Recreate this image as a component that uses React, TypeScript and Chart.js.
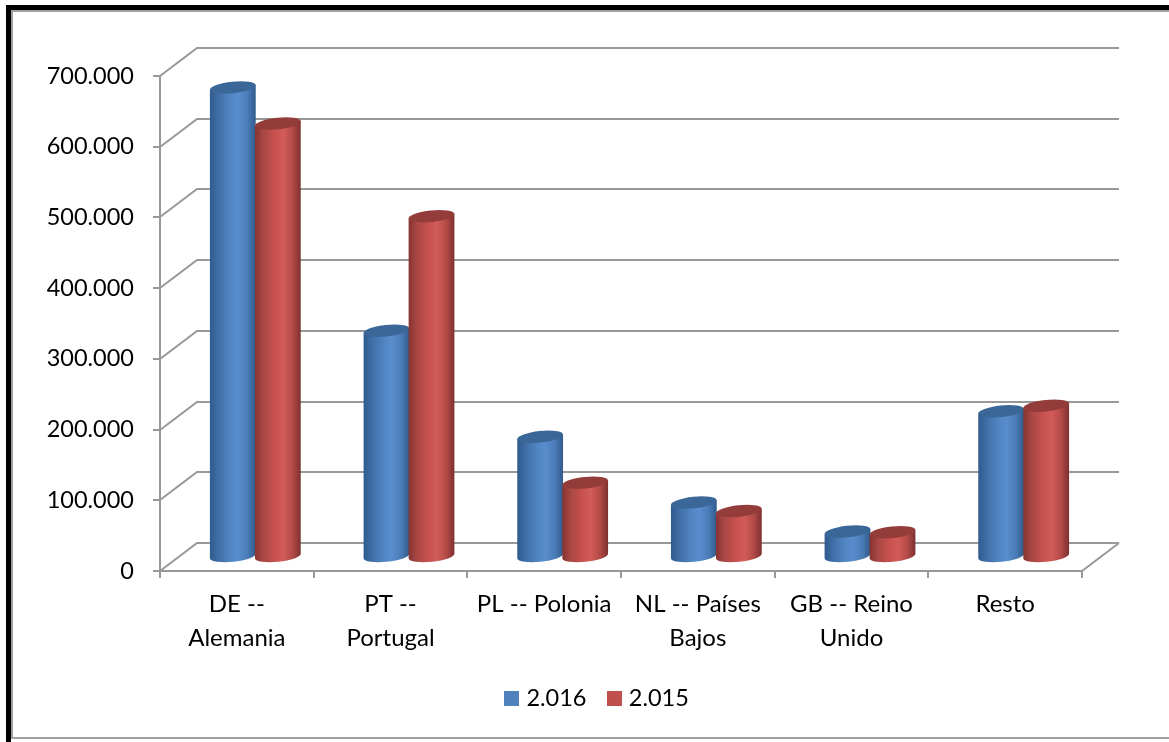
import React, { useEffect, useRef } from "react";
import { Chart, registerables } from "chart.js";

Chart.register(...registerables);

const categories = [["DE --", "Alemania"], ["PT --", "Portugal"], "PL -- Polonia", ["NL -- Países", "Bajos"], ["GB -- Reino", "Unido"], "Resto"];
const seriesNames = ["2.016", "2.015"];
const values2016 = [664000, 320000, 170000, 77000, 36000, 206000];
const values2015 = [613000, 482000, 105000, 65000, 35000, 214000];
const legendColors = ["#4f81bd", "#c0504d"];
const yMax = 700000;
const yStep = 100000;

const FONT = "Lato";
const FONT_SIZE = 23.5;
const GRID = "#989898";
const DEPTH_X = 37;
const DEPTH_Y = 28;
const RY = 5.8;
const TILT = (-6 * Math.PI) / 180;
const LEGEND_SHIFT = 58;

const palettes = [
  { stops: ["#2f5a8c", "#3f6ea6", "#5285c4", "#5a8dcd", "#4a7cb8", "#305a8a"], top: "#3b6698" },
  { stops: ["#853331", "#a84744", "#c9524f", "#d25c59", "#b44a47", "#7c302e"], top: "#933c3a" },
];

const swatch = (color: string) => {
  const c = document.createElement("canvas");
  c.width = 15;
  c.height = 15;
  const g = c.getContext("2d")!;
  g.fillStyle = color;
  g.fillRect(0, 0, 15, 15);
  return c;
};

const framePlugin = {
  id: "frame",
  afterLayout(chart: any) {
    chart.legend.left += LEGEND_SHIFT;
    chart.legend.right += LEGEND_SHIFT;
  },
  beforeDraw(chart: any) {
    const { ctx, width, height } = chart;
    ctx.save();
    ctx.fillStyle = "#ffffff";
    ctx.fillRect(0, 0, width, height);
    ctx.fillStyle = "#000000";
    ctx.fillRect(6, 5, width - 6, 5);
    ctx.fillRect(6, 5, 5, height - 5);
    ctx.fillStyle = "#a0a0a0";
    ctx.fillRect(11, 10, width - 11, 2);
    ctx.fillRect(11, 10, 2, height - 14);
    ctx.fillRect(11, 737, width - 11, 2);
    ctx.restore();
  },
};

const wallsPlugin = {
  id: "walls",
  beforeDatasetsDraw(chart: any) {
    const { ctx, chartArea, scales } = chart;
    const y = scales.y;
    ctx.save();
    ctx.strokeStyle = GRID;
    ctx.lineWidth = 2;
    ctx.beginPath();
    for (let v = 0; v <= yMax; v += yStep) {
      const p = Math.round(y.getPixelForValue(v));
      ctx.moveTo(chartArea.left, p);
      ctx.lineTo(chartArea.left + DEPTH_X, p - DEPTH_Y);
      ctx.lineTo(chartArea.right + DEPTH_X, p - DEPTH_Y);
    }
    const zero = Math.round(y.getPixelForValue(0));
    ctx.moveTo(chartArea.right, zero);
    ctx.lineTo(chartArea.right + DEPTH_X, zero - DEPTH_Y);
    ctx.stroke();
    ctx.restore();
  },
};

const drawCylinders = (chart: any, index: number) => {
  const { ctx } = chart;
  const pal = palettes[index];
  const bars = chart.getDatasetMeta(index).data;
  const dx = DEPTH_X / 2;
  const dy = DEPTH_Y / 2;
  const cos = Math.cos(TILT);
  const sin = Math.sin(TILT);
  for (const bar of bars) {
    const p = bar.getProps(["x", "y", "base", "width"], true);
    const cx = p.x + dx;
    const top = p.y - dy;
    const bottom = p.base - dy;
    const rx = p.width / 2 + 0.5;
    const g = ctx.createLinearGradient(cx - rx, 0, cx + rx, 0);
    const at = [0, 0.18, 0.45, 0.62, 0.82, 1];
    pal.stops.forEach((s, i) => g.addColorStop(at[i], s));
    ctx.save();
    ctx.fillStyle = g;
    ctx.beginPath();
    ctx.moveTo(cx - rx * cos, top - rx * sin);
    ctx.lineTo(cx - rx * cos, bottom - rx * sin);
    ctx.ellipse(cx, bottom, rx, RY, TILT, Math.PI, 0, true);
    ctx.lineTo(cx + rx * cos, top + rx * sin);
    ctx.closePath();
    ctx.fill();
    ctx.fillStyle = pal.top;
    ctx.beginPath();
    ctx.ellipse(cx, top, rx, RY, TILT, 0, Math.PI * 2);
    ctx.fill();
    ctx.restore();
  }
};

const cylinderPlugin = {
  id: "cylinders",
  beforeDatasetDraw() {
    return false;
  },
  afterDatasetsDraw(chart: any) {
    // left to right, so that each bar overlaps the one before it
    drawCylinders(chart, 0);
    drawCylinders(chart, 1);
  },
};

export default function App() {
  const ref = useRef<HTMLCanvasElement>(null);
  useEffect(() => {
    const chart = new Chart(ref.current!, {
      type: "bar",
      data: {
        labels: categories as any,
        datasets: [
          { label: seriesNames[0], data: values2016, backgroundColor: legendColors[0], categoryPercentage: 0.586, barPercentage: 1 },
          { label: seriesNames[1], data: values2015, backgroundColor: legendColors[1], categoryPercentage: 0.586, barPercentage: 1 },
        ],
      },
      options: {
        responsive: false,
        animation: false,
        layout: { padding: { left: 0, right: 87, top: 76, bottom: 22 } },
        font: { family: FONT } as any,
        scales: {
          x: {
            offset: true,
            grid: { drawOnChartArea: false, drawTicks: true, tickLength: 7, color: GRID, lineWidth: 2 },
            border: { color: GRID, width: 2 },
            ticks: { color: "#000000", padding: 9, maxRotation: 0, autoSkip: false, font: { family: FONT, size: 24, lineHeight: 1.42 } },
            afterFit: (s: any) => { s.height = 90.5; },
          },
          y: {
            min: 0,
            max: yMax,
            grid: { drawOnChartArea: false, drawTicks: true, tickLength: 7, color: GRID, lineWidth: 2 },
            border: { color: GRID, width: 2 },
            ticks: {
              stepSize: yStep,
              color: "#000000",
              padding: 19,
              font: { family: FONT, size: FONT_SIZE },
              callback: (v: any) => String(v).replace(/\B(?=(\d{3})+$)/g, "."),
            },
            afterFit: (s: any) => { s.width = 160; },
          },
        },
        plugins: {
          title: { display: false },
          tooltip: { enabled: false },
          legend: {
            position: "bottom",
            labels: {
              usePointStyle: true,
              pointStyleWidth: 5.5,
              boxHeight: 15,
              padding: 25,
              color: "#000000",
              font: { family: FONT, size: FONT_SIZE },
              generateLabels: (c: any) =>
                c.data.datasets.map((d: any, i: number) => ({
                  text: d.label,
                  fillStyle: legendColors[i],
                  strokeStyle: legendColors[i],
                  lineWidth: 0,
                  hidden: false,
                  datasetIndex: i,
                  pointStyle: swatch(legendColors[i]),
                })),
            },
          },
        },
      },
      plugins: [framePlugin, wallsPlugin, cylinderPlugin],
    } as any);
    return () => chart.destroy();
  }, []);
  return (
    <div style={{ position: "absolute", left: 0, top: 0, width: 1169, height: 742 }}>
      <canvas ref={ref} width={1169} height={742} style={{ display: "block" }} />
    </div>
  );
}
